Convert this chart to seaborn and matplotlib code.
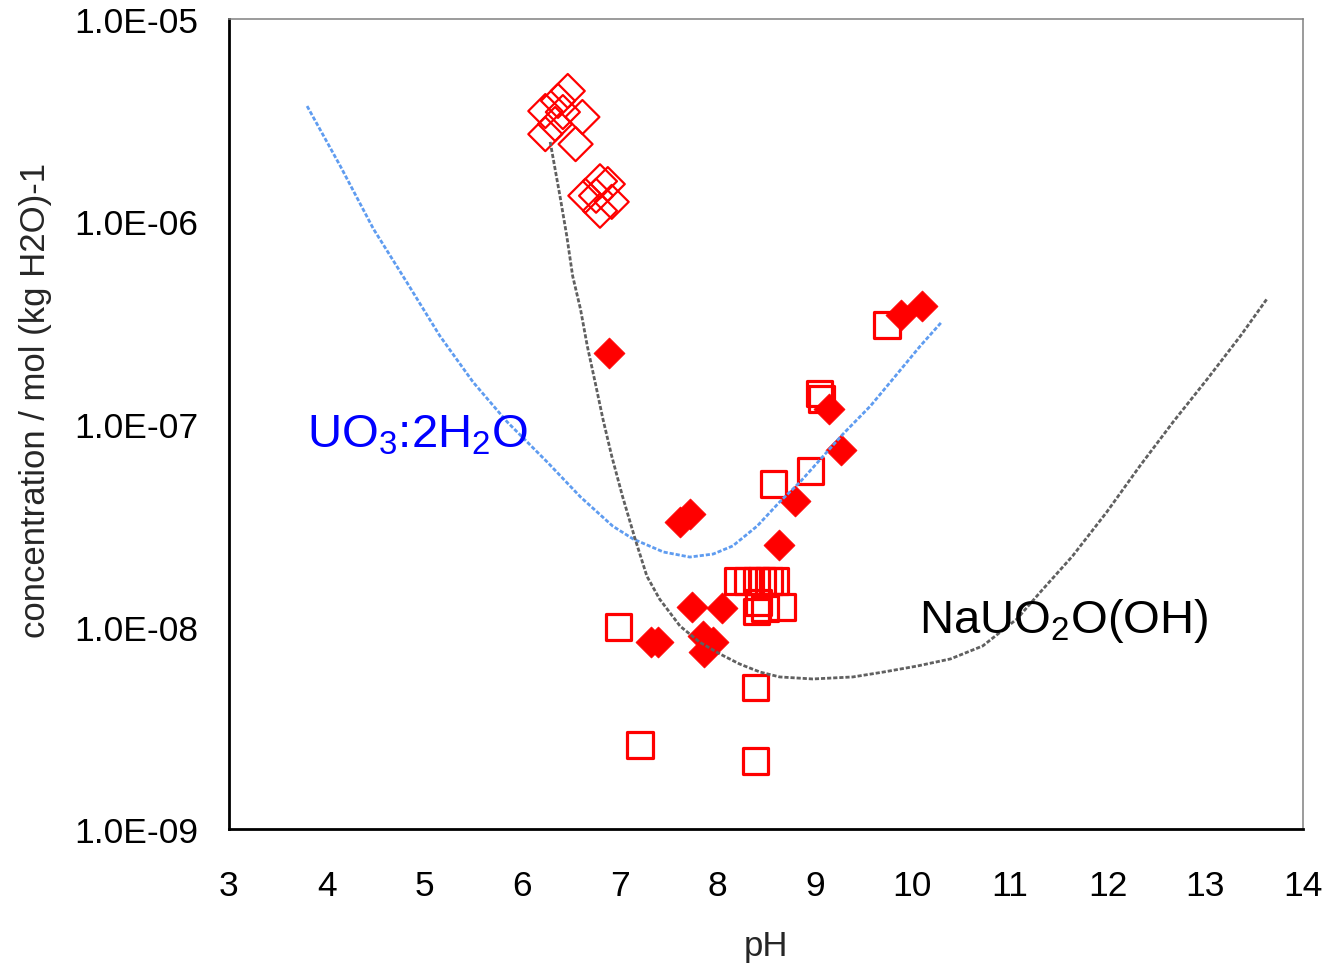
import numpy as np
import pandas as pd
import matplotlib
matplotlib.use("Agg")
import matplotlib.pyplot as plt
from matplotlib.ticker import FixedLocator, FuncFormatter, LogLocator, NullFormatter
import seaborn as sns

# ---------------- data ----------------
# filled diamonds
fd_ph = [6.89, 9.88, 10.10, 9.15, 9.27, 8.80, 8.63, 7.62, 7.72, 7.74, 8.05,
         7.32, 7.39, 7.86, 7.96, 7.87]
fd_c = [2.24e-7, 3.45e-7, 3.83e-7, 1.19e-7, 7.45e-8, 4.17e-8, 2.52e-8, 3.28e-8,
        3.60e-8, 1.25e-8, 1.23e-8, 8.4e-9, 8.4e-9, 8.97e-9, 8.4e-9, 7.5e-9]

# open diamonds
od_ph = [6.47, 6.37, 6.42, 6.24, 6.62, 6.24, 6.55, 6.34,
         6.80, 6.65, 6.88, 6.80, 6.76, 6.92]
od_c = [4.41e-6, 3.94e-6, 3.47e-6, 3.51e-6, 3.28e-6, 2.70e-6, 2.41e-6, 3.03e-6,
        1.58e-6, 1.34e-6, 1.53e-6, 1.13e-6, 1.34e-6, 1.25e-6]

# open squares
sq_ph = [9.74, 9.05, 9.07, 8.96, 8.58, 6.99, 7.21, 8.39, 8.39,
         8.21, 8.31, 8.40, 8.46, 8.53, 8.60,
         8.40, 8.49, 8.42, 8.67]
sq_c = [3.08e-7, 1.41e-7, 1.33e-7, 5.86e-8, 5.06e-8, 9.95e-9, 2.60e-9, 2.17e-9, 5.02e-9,
        1.68e-8, 1.68e-8, 1.68e-8, 1.68e-8, 1.68e-8, 1.68e-8,
        1.19e-8, 1.23e-8, 1.31e-8, 1.25e-8]

# UO3:2H2O solubility curve (log10 concentration)
uo3_ph = [3.80, 4.14, 4.48, 4.82, 5.16, 5.50, 5.85, 6.26, 6.60, 6.93, 7.14, 7.45,
          7.72, 7.96, 8.16, 8.41, 8.64, 8.85, 9.29, 9.57, 9.80, 10.08, 10.30]
uo3_logc = [-5.430, -5.726, -6.037, -6.299, -6.565, -6.793, -6.990, -7.188, -7.360,
            -7.504, -7.568, -7.632, -7.657, -7.642, -7.602, -7.504, -7.385, -7.286,
            -7.049, -6.911, -6.778, -6.615, -6.496]

# NaUO2O(OH) solubility curve (log10 concentration)
na_ph = [6.29, 6.39, 6.46, 6.52, 6.60, 6.67, 6.75, 6.83, 6.92, 7.03, 7.16, 7.28,
         7.41, 7.62, 7.82, 8.03, 8.23, 8.44, 8.64, 8.98, 9.39, 9.70, 10.05, 10.39,
         10.72, 11.07, 11.31, 11.64, 11.99, 12.33, 12.67, 13.02, 13.36, 13.63]
na_logc = [-5.607, -5.874, -6.072, -6.269, -6.432, -6.615, -6.793, -6.975, -7.158,
           -7.356, -7.568, -7.751, -7.864, -7.998, -8.077, -8.136, -8.185, -8.225,
           -8.249, -8.259, -8.249, -8.225, -8.195, -8.160, -8.096, -7.963, -7.830,
           -7.652, -7.435, -7.207, -6.990, -6.778, -6.565, -6.383]

x_ticks = list(range(3, 15))
y_ticks = [1e-9, 1e-8, 1e-7, 1e-6, 1e-5]

# ---------------- style ----------------
sns.set_style("white")
plt.rcParams["font.family"] = ["Liberation Sans", "DejaVu Sans"]
plt.rcParams["mathtext.fontset"] = "custom"
plt.rcParams["mathtext.rm"] = "Liberation Sans"
plt.rcParams["mathtext.default"] = "regular"

fig = plt.figure(figsize=(13.22, 9.70), dpi=100)
ax = fig.add_axes([0.1732, 0.1443, 0.8124, 0.8351])
ax.set_yscale("log")
ax.set_xlim(3, 14)
ax.set_ylim(1e-9, 1e-5)

# curves
uo3_df = pd.DataFrame({"pH": uo3_ph, "c": 10 ** np.array(uo3_logc)})
na_df = pd.DataFrame({"pH": na_ph, "c": 10 ** np.array(na_logc)})

# markers
sns.scatterplot(x=sq_ph, y=sq_c, marker="s", s=330, facecolor="none",
                edgecolor="#ff0000", linewidth=2.3, ax=ax, zorder=3)
sns.scatterplot(x=od_ph, y=od_c, marker="D", s=300, facecolor="none",
                edgecolor="#ff0000", linewidth=1.6, ax=ax, zorder=3)
sns.scatterplot(x=fd_ph, y=fd_c, marker="D", s=250, color="#ff0000",
                edgecolor="#ff0000", linewidth=0.5, ax=ax, zorder=3)

sns.lineplot(data=uo3_df, x="pH", y="c", sort=False, estimator=None, ax=ax,
             color="#5f9cf0", linewidth=2.0, linestyle=(0, (1.5, 0.7)), zorder=4)
sns.lineplot(data=na_df, x="pH", y="c", sort=False, estimator=None, ax=ax,
             color="#606060", linewidth=2.0, linestyle=(0, (1.5, 0.7)), zorder=4)

# annotations
ax.text(3.80, 7.7e-8, r"UO$_3$:2H$_2$O", color="#0000ff", fontsize=34,
        ha="left", va="baseline", zorder=5)
ax.text(10.07, 9.4e-9, r"NaUO$_2$O(OH)", color="black", fontsize=34,
        ha="left", va="baseline", zorder=5)

# axes formatting
ax.xaxis.set_major_locator(FixedLocator(x_ticks))
ax.xaxis.set_minor_locator(FixedLocator([v + 0.5 for v in x_ticks[:-1]]))
ax.yaxis.set_major_locator(FixedLocator(y_ticks))
ax.yaxis.set_minor_locator(LogLocator(base=10, subs=np.arange(2, 10), numticks=20))
ax.yaxis.set_major_formatter(FuncFormatter(lambda v, p: f"{v:.1E}"))
ax.yaxis.set_minor_formatter(NullFormatter())
ax.xaxis.set_major_formatter(FuncFormatter(lambda v, p: f"{int(round(v))}"))

ax.tick_params(axis="both", which="major", direction="in", length=7.5, width=2,
               labelsize=25.5, color="black", labelcolor="black")
ax.tick_params(axis="both", which="minor", direction="in", length=5, width=2,
               color="black")
ax.tick_params(axis="x", which="major", pad=29)
ax.tick_params(axis="y", which="major", pad=22)
ax.tick_params(top=False, right=False, which="both")

for side in ["left", "bottom"]:
    ax.spines[side].set_color("black")
    ax.spines[side].set_linewidth(2.0)
for side in ["top", "right"]:
    ax.spines[side].set_visible(True)
    ax.spines[side].set_color("#808080")
    ax.spines[side].set_linewidth(1.1)

ax.set_xlabel("pH", fontsize=25)
ax.set_ylabel("concentration / mol (kg H2O)-1", fontsize=25)
ax.xaxis.set_label_coords(0.5, -0.123)
ax.yaxis.set_label_coords(-0.165, 0.53)
ax.grid(False)

fig.savefig("out.png", dpi=100)
